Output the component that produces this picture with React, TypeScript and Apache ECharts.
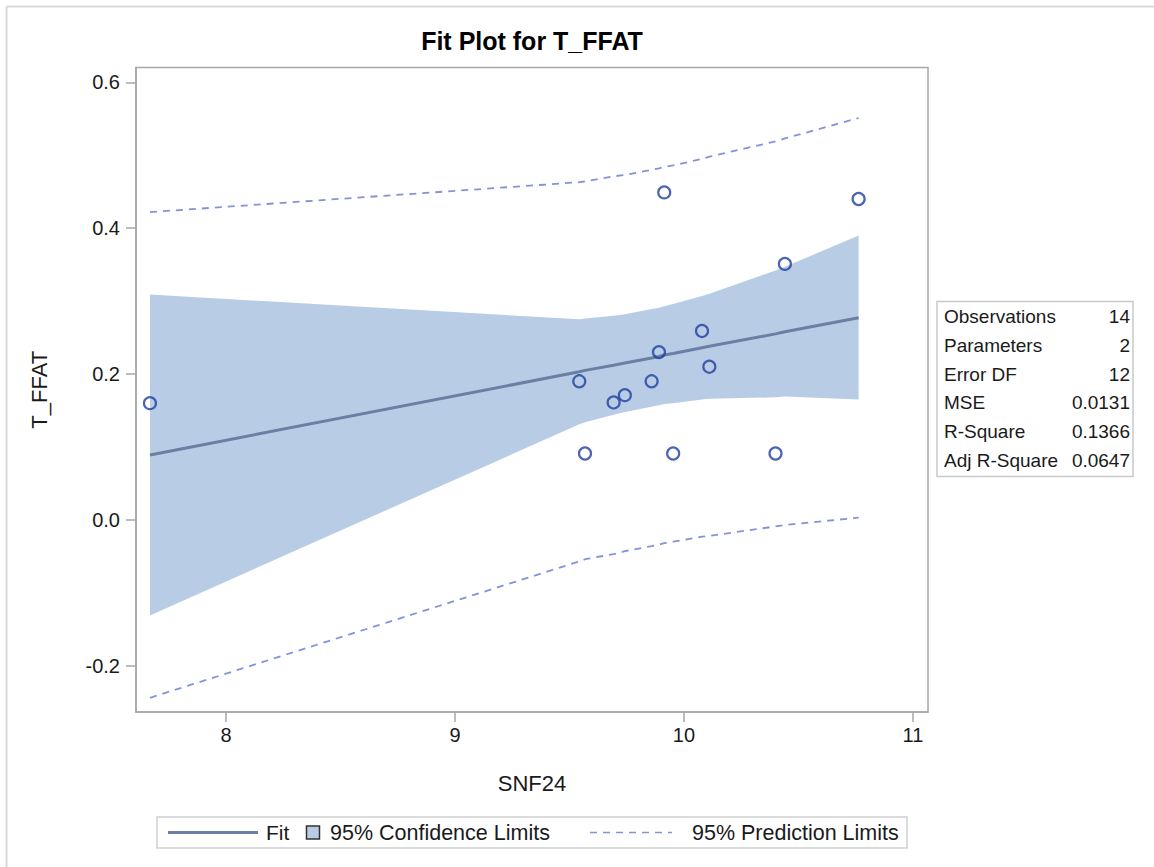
import React, { useEffect, useRef } from "react";
import * as echarts from "echarts";

// Band / fit evaluation points (SNF24 values of the observations, sorted)
const bandX = [7.668, 9.543, 9.568, 9.693, 9.742, 9.859, 9.891, 9.914, 9.953, 10.079, 10.111, 10.4, 10.441, 10.763];
const fitY = [0.089, 0.203, 0.205, 0.212, 0.215, 0.222, 0.224, 0.226, 0.228, 0.236, 0.238, 0.255, 0.258, 0.277];
const ciLower = [-0.131, 0.131, 0.134, 0.144, 0.148, 0.155, 0.157, 0.159, 0.160, 0.165, 0.166, 0.168, 0.169, 0.165];
const ciUpper = [0.309, 0.275, 0.276, 0.280, 0.282, 0.289, 0.291, 0.293, 0.296, 0.307, 0.310, 0.342, 0.347, 0.390];
const piLower = [-0.244, -0.057, -0.054, -0.047, -0.043, -0.036, -0.034, -0.032, -0.030, -0.023, -0.022, -0.009, -0.007, 0.003];
const piUpper = [0.422, 0.463, 0.464, 0.471, 0.473, 0.480, 0.482, 0.484, 0.486, 0.495, 0.498, 0.519, 0.523, 0.551];

// Observations
const obsX = [7.668, 9.914, 10.763, 10.441, 10.079, 9.891, 10.111, 9.543, 9.859, 9.742, 9.693, 9.568, 9.953, 10.4];
const obsY = [0.16, 0.449, 0.44, 0.351, 0.259, 0.23, 0.21, 0.19, 0.19, 0.171, 0.161, 0.091, 0.091, 0.091];

const xTicks = [8, 9, 10, 11];
const yTicks = [-0.2, 0, 0.2, 0.4, 0.6];

const statLabels = ["Observations", "Parameters", "Error DF", "MSE", "R-Square", "Adj R-Square"];
const statValues = ["14", "2", "12", "0.0131", "0.1366", "0.0647"];

const legendLabels = ["Fit", "95% Confidence Limits", "95% Prediction Limits"];

const FONT = "'Liberation Sans', Arial, sans-serif";
const AXIS_GRAY = "#a4a8ab";
const BAND = "#b8cde5";
const FIT = "#6a7fa3";
const PRED = "#8394d4";
const MARK = "#1f3f9f";
const TEXT = "#1a1a1a";

export default function App() {
  const ref = useRef<HTMLDivElement>(null);

  useEffect(() => {
    const chart = echarts.init(ref.current!, null, { renderer: "svg" });

    const graphics: any[] = [
      // outer frame (top and left visible)
      { type: "line", shape: { x1: 6.5, y1: 6.5, x2: 1160, y2: 6.5 }, style: { stroke: "#d9d9d9", lineWidth: 2 } },
      { type: "line", shape: { x1: 6.5, y1: 6.5, x2: 6.5, y2: 880 }, style: { stroke: "#d9d9d9", lineWidth: 2 } },
      // title
      {
        type: "text",
        x: 532,
        y: 41,
        style: { text: "Fit Plot for T_FFAT", font: `bold 25px ${FONT}`, fill: "#000", align: "center", verticalAlign: "middle" },
      },
      // stats table box
      { type: "rect", shape: { x: 937, y: 301.5, width: 196, height: 175 }, style: { fill: "#fff", stroke: "#c9c9c9", lineWidth: 1.5 } },
    ];
    statLabels.forEach((lab, i) => {
      const y = 316.5 + i * 28.8;
      graphics.push({ type: "text", x: 944, y, style: { text: lab, font: `19px ${FONT}`, fill: TEXT, align: "left", verticalAlign: "middle" } });
      graphics.push({ type: "text", x: 1130, y, style: { text: statValues[i], font: `19px ${FONT}`, fill: TEXT, align: "right", verticalAlign: "middle" } });
    });
    // legend
    const ly = 832.5;
    graphics.push(
      { type: "rect", shape: { x: 157, y: 817, width: 750, height: 31 }, style: { fill: "#fff", stroke: "#cfcfcf", lineWidth: 1.5 } },
      { type: "line", shape: { x1: 168, y1: ly, x2: 258, y2: ly }, style: { stroke: FIT, lineWidth: 3 } },
      { type: "text", x: 266, y: ly, style: { text: legendLabels[0], font: `21px ${FONT}`, fill: TEXT, verticalAlign: "middle" } },
      { type: "rect", shape: { x: 306.5, y: 826, width: 13, height: 13 }, style: { fill: BAND, stroke: "#333", lineWidth: 1.5 } },
      { type: "text", x: 330, y: ly, style: { text: legendLabels[1], font: `21.5px ${FONT}`, fill: TEXT, verticalAlign: "middle" } },
      { type: "line", shape: { x1: 590, y1: ly, x2: 672, y2: ly }, style: { stroke: PRED, lineWidth: 1.5, lineDash: [7, 6] } },
      { type: "text", x: 692, y: ly, style: { text: legendLabels[2], font: `21.5px ${FONT}`, fill: TEXT, verticalAlign: "middle" } }
    );

    chart.setOption({
      animation: false,
      backgroundColor: "#fff",
      textStyle: { fontFamily: FONT },
      grid: {
        left: 136,
        top: 67.5,
        right: 1154 - 928,
        bottom: 867 - 712,
        show: true,
        borderColor: AXIS_GRAY,
        borderWidth: 1.5,
        backgroundColor: "transparent",
      },
      xAxis: {
        type: "value",
        min: 7.607,
        max: 11.066,
        name: "SNF24",
        nameLocation: "middle",
        nameGap: 60,
        nameTextStyle: { fontSize: 22, color: TEXT, fontFamily: FONT },
        axisLine: { show: true, onZero: false, lineStyle: { color: AXIS_GRAY, width: 1.5 } },
        axisTick: { show: true, length: 10, customValues: xTicks, lineStyle: { color: AXIS_GRAY, width: 1.5 } },
        axisLabel: { customValues: xTicks, fontSize: 20, color: TEXT, margin: 13, formatter: (v: number) => String(v) },
        splitLine: { show: false },
      },
      yAxis: {
        type: "value",
        min: -0.2635,
        max: 0.6203,
        name: "T_FFAT",
        nameLocation: "middle",
        nameGap: 86,
        nameTextStyle: { fontSize: 22, color: TEXT, fontFamily: FONT },
        axisLine: { show: true, onZero: false, lineStyle: { color: AXIS_GRAY, width: 1.5 } },
        axisTick: { show: true, length: 10, customValues: yTicks, lineStyle: { color: AXIS_GRAY, width: 1.5 } },
        axisLabel: { customValues: yTicks, fontSize: 20, color: TEXT, margin: 16, formatter: (v: number) => v.toFixed(1) },
        splitLine: { show: false },
      },
      series: [
        {
          type: "custom",
          name: "95% Confidence Limits",
          data: bandX.map((x, i) => [x, ciLower[i], ciUpper[i]]),
          encode: { x: 0, y: [1, 2] },
          clip: true,
          z: 1,
          silent: true,
          renderItem: (params: any, api: any) => {
            if (params.dataIndex !== 0) return null;
            const pts: number[][] = [];
            for (let i = 0; i < bandX.length; i++) pts.push(api.coord([bandX[i], ciUpper[i]]));
            for (let i = bandX.length - 1; i >= 0; i--) pts.push(api.coord([bandX[i], ciLower[i]]));
            return { type: "polygon", shape: { points: pts }, style: { fill: BAND, stroke: "none" } };
          },
        },
        {
          type: "line",
          name: "95% Prediction Limits",
          data: bandX.map((x, i) => [x, piUpper[i]]),
          symbol: "none",
          lineStyle: { color: PRED, width: 1.8, type: [7, 6] },
          z: 2,
        },
        {
          type: "line",
          name: "95% Prediction Limits lower",
          data: bandX.map((x, i) => [x, piLower[i]]),
          symbol: "none",
          lineStyle: { color: PRED, width: 1.8, type: [7, 6] },
          z: 2,
        },
        {
          type: "line",
          name: "Fit",
          data: bandX.map((x, i) => [x, fitY[i]]),
          symbol: "none",
          lineStyle: { color: FIT, width: 3 },
          z: 3,
        },
        {
          type: "scatter",
          name: "Observations",
          data: obsX.map((x, i) => [x, obsY[i]]),
          symbol: "circle",
          symbolSize: 12,
          itemStyle: { color: "rgba(255,255,255,0)", borderColor: MARK, borderWidth: 2.2 },
          z: 4,
        },
      ],
      graphic: graphics,
    });

    return () => chart.dispose();
  }, []);

  return (
    <div
      ref={ref}
      style={{ position: "absolute", left: 0, top: 0, width: 1154, height: 867, background: "#fff" }}
    />
  );
}
